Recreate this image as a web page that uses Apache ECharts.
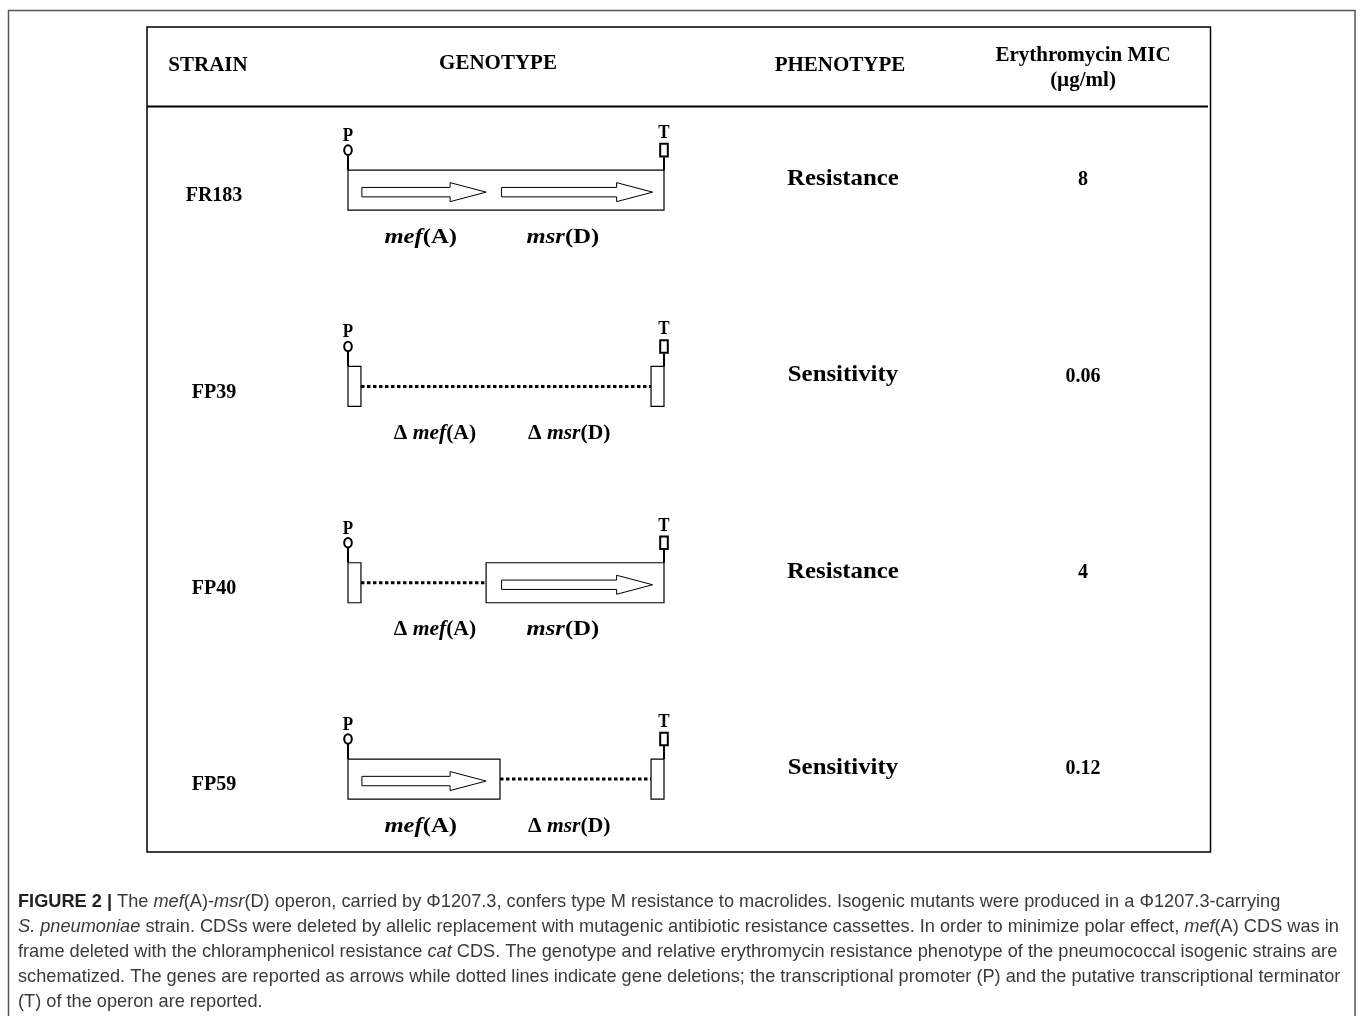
<!DOCTYPE html>
<html>
<head>
<meta charset="utf-8">
<script src="https://cdn.jsdelivr.net/npm/echarts@6/dist/echarts.min.js"></script>
<style>html,body{margin:0;padding:0;background:#fff}#chart{width:1360px;height:1016px}</style>
</head>
<body>
<div id="chart"></div>
<script>
// ---- data ----
const strains = ['FR183', 'FP39', 'FP40', 'FP59'];
const phenotypes = ['Resistance', 'Sensitivity', 'Resistance', 'Sensitivity'];
const micValues = [8, 0.06, 4, 0.12];
const mefPresent = [true, false, false, true];
const msrPresent = [true, false, true, false];
const mefSpan = [4.4, 43.7];   // operon units (0..100)
const msrSpan = [48.6, 96.4];
const headers = ['STRAIN', 'GENOTYPE', 'PHENOTYPE', 'Erythromycin MIC', '(µg/ml)'];
const captionLines = [
  '{b|FIGURE 2 |} The {i|mef}(A)-{i|msr}(D) operon, carried by \u03A61207.3, confers type M resistance to macrolides. Isogenic mutants were produced in a \u03A61207.3-carrying',
  '{i|S. pneumoniae} strain. CDSs were deleted by allelic replacement with mutagenic antibiotic resistance cassettes. In order to minimize polar effect, {i|mef}(A) CDS was in',
  'frame deleted with the chloramphenicol resistance {i|cat} CDS. The genotype and relative erythromycin resistance phenotype of the pneumococcal isogenic strains are',
  'schematized. The genes are reported as arrows while dotted lines indicate gene deletions; the transcriptional promoter (P) and the putative transcriptional terminator',
  '(T) of the operon are reported.'
];

const SERIF = '"Liberation Serif", "Times New Roman", serif';
const SANS = '"Liberation Sans", Arial, sans-serif';

function renderRow(params, api) {
  const row = api.value(1);
  const X = u => api.coord([u, row])[0];
  const yC = api.coord([0, row])[1];
  const H = 40, top = yC - H / 2;
  const stub = 4.1;
  const kids = [];
  const box = (a, b) => kids.push({type: 'rect', shape: {x: X(a), y: top, width: X(b) - X(a), height: H},
    style: {fill: '#fff', stroke: '#000', lineWidth: 1.2}});
  const dots = (a, b) => kids.push({type: 'line', shape: {x1: X(a), y1: yC, x2: X(b), y2: yC},
    style: {stroke: '#000', lineWidth: 3, lineDash: [3.5, 2.5]}});
  const arrow = (span) => {
    const x0 = X(span[0]), x1 = X(span[1]), xh = x1 - 36, y = yC + 2;
    kids.push({type: 'polygon', shape: {points: [[x0, y - 4.7], [xh, y - 4.7], [xh, y - 9.5], [x1, y], [xh, y + 9.5], [xh, y + 4.7], [x0, y + 4.7]]},
      style: {fill: '#fff', stroke: '#000', lineWidth: 1}});
  };
  const mef = mefPresent[row], msr = msrPresent[row];
  if (mef && msr) { box(0, 100); }
  else if (!mef && !msr) { box(0, stub); dots(stub, 100 - stub); box(100 - stub, 100); }
  else if (!mef && msr) { box(0, stub); dots(stub, mefSpan[1]); box(mefSpan[1], 100); }
  else { box(0, msrSpan[0] - 0.5); dots(msrSpan[0] - 0.5, 100 - stub); box(100 - stub, 100); }
  if (mef) arrow(mefSpan);
  if (msr) arrow(msrSpan);

  // promoter P
  const xL = X(0), xR = X(100);
  kids.push({type: 'line', shape: {x1: xL, y1: top, x2: xL, y2: top - 15}, style: {stroke: '#000', lineWidth: 2}});
  kids.push({type: 'ellipse', shape: {cx: xL, cy: top - 20, rx: 3.8, ry: 4.8}, style: {fill: '#fff', stroke: '#000', lineWidth: 2}});
  kids.push({type: 'text', x: xL, y: top - 34, scaleY: 1.15, style: {text: 'P', font: 'bold 17px ' + SERIF, fill: '#000', align: 'center', verticalAlign: 'middle'}});
  // terminator T
  kids.push({type: 'line', shape: {x1: xR, y1: top, x2: xR, y2: top - 13}, style: {stroke: '#000', lineWidth: 2}});
  kids.push({type: 'rect', shape: {x: xR - 3.8, y: top - 26.3, width: 7.6, height: 12.6}, style: {fill: '#fff', stroke: '#000', lineWidth: 2}});
  kids.push({type: 'text', x: xR, y: top - 37, scaleY: 1.15, style: {text: 'T', font: 'bold 17px ' + SERIF, fill: '#000', align: 'center', verticalAlign: 'middle'}});

  // gene labels
  const rich = {
    b: {fontFamily: SERIF, fontSize: 22, fontWeight: 'bold', fill: '#000'},
    i: {fontFamily: SERIF, fontSize: 22, fontWeight: 'bold', fontStyle: 'italic', fill: '#000'}
  };
  const lab = (cx, name, suffix, present) => kids.push({type: 'text', x: cx, y: yC + 47, scaleX: present ? 1.12 : 0.98, scaleY: 1,
    style: {text: (present ? '' : '{b|\u0394 }') + '{i|' + name + '}{b|' + suffix + '}', rich: rich,
      font: 'bold 22px ' + SERIF, align: 'center', verticalAlign: 'middle'}});
  lab(X(mef ? 23 : 27.5), 'mef', '(A)', mef);
  lab(X(msr ? 68 : 70), 'msr', '(D)', msr);

  // strain, phenotype, MIC
  kids.push({type: 'text', x: 214, y: yC + 6, style: {text: strains[row], font: 'bold 20px ' + SERIF, fill: '#000', align: 'center', verticalAlign: 'middle'}});
  kids.push({type: 'text', x: 843, y: yC - 11, scaleX: 1.08, style: {text: phenotypes[row], font: 'bold 23px ' + SERIF, fill: '#000', align: 'center', verticalAlign: 'middle'}});
  kids.push({type: 'text', x: 1083, y: yC - 10, style: {text: String(micValues[row]), font: 'bold 20px ' + SERIF, fill: '#000', align: 'center', verticalAlign: 'middle'}});
  return {type: 'group', children: kids};
}

const captionGraphics = captionLines.map((t, k) => ({
  type: 'text', left: 18, top: 893 + k * 25,
  style: {
    text: t, font: '18.2px ' + SANS, fill: '#3a3a3a',
    rich: {
      b: {fontFamily: SANS, fontSize: 18.2, fontWeight: 'bold', fill: '#222'},
      i: {fontFamily: SANS, fontSize: 18.2, fontStyle: 'italic', fill: '#3a3a3a'}
    }
  }
}));

const headerStyle = (txt, x, y) => ({type: 'text', x: x, y: y,
  style: {text: txt, font: 'bold 21px ' + SERIF, fill: '#000', align: 'center', verticalAlign: 'middle'}});

const chart = echarts.init(document.getElementById('chart'), null, {renderer: 'canvas'});
chart.setOption({
  animation: false,
  backgroundColor: '#fff',
  grid: {left: 348, right: 696, top: 92, height: 785.2, containLabel: false},
  xAxis: {type: 'value', min: 0, max: 100, show: false},
  yAxis: {type: 'category', data: strains, inverse: true, show: false},
  graphic: [
    {type: 'rect', shape: {x: 8.5, y: 10.5, width: 1346.5, height: 1030}, style: {fill: 'none', stroke: '#555', lineWidth: 1.5}},
    {type: 'rect', shape: {x: 147, y: 27, width: 1063.5, height: 825}, style: {fill: 'none', stroke: '#000', lineWidth: 1.5}},
    {type: 'line', shape: {x1: 147, y1: 106.5, x2: 1208, y2: 106.5}, style: {stroke: '#000', lineWidth: 2}},
    headerStyle(headers[0], 208, 66),
    headerStyle(headers[1], 498, 64),
    headerStyle(headers[2], 840, 66),
    headerStyle(headers[3], 1083, 56),
    headerStyle(headers[4], 1083, 81)
  ].concat(captionGraphics),
  series: [{
    type: 'custom',
    clip: false,
    data: strains.map((s, i) => [0, i]),
    encode: {x: 0, y: 1},
    renderItem: renderRow
  }]
});
</script>
</body>
</html>
